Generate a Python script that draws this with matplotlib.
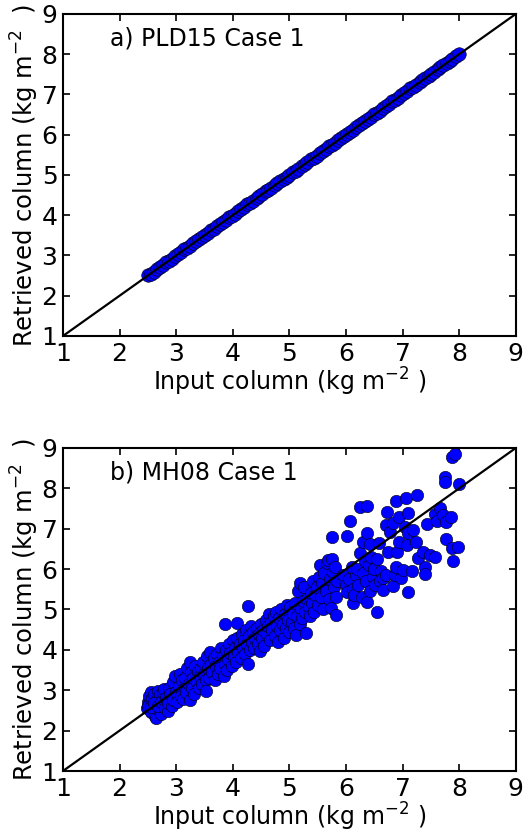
import matplotlib
matplotlib.use("Agg")
import matplotlib.pyplot as plt

# a) PLD15 Case 1: retrieval sits on the 1:1 line
PLD15_INPUT = [
    2.50, 2.55, 2.60, 2.66, 2.71, 2.76, 2.82, 2.87, 2.92, 2.98,
    3.03, 3.08, 3.14, 3.19, 3.24, 3.30, 3.35, 3.40, 3.46, 3.51,
    3.56, 3.62, 3.67, 3.72, 3.78, 3.83, 3.88, 3.94, 3.99, 4.04,
    4.10, 4.15, 4.20, 4.26, 4.31, 4.36, 4.42, 4.47, 4.52, 4.58,
    4.63, 4.68, 4.74, 4.79, 4.84, 4.90, 4.95, 5.00, 5.06, 5.11,
    5.16, 5.22, 5.27, 5.32, 5.38, 5.43, 5.48, 5.54, 5.59, 5.64,
    5.70, 5.75, 5.80, 5.86, 5.91, 5.96, 6.02, 6.07, 6.12, 6.18,
    6.23, 6.28, 6.34, 6.39, 6.44, 6.50, 6.55, 6.60, 6.66, 6.71,
    6.76, 6.82, 6.87, 6.92, 6.98, 7.03, 7.08, 7.14, 7.19, 7.24,
    7.30, 7.35, 7.40, 7.46, 7.51, 7.56, 7.62, 7.67, 7.72, 7.78,
    7.83, 7.88, 7.94, 8.00,
]
PLD15_RETRIEVED = [
    2.51, 2.55, 2.60, 2.67, 2.71, 2.76, 2.83, 2.87, 2.92, 2.99,
    3.03, 3.08, 3.15, 3.19, 3.24, 3.31, 3.35, 3.40, 3.47, 3.51,
    3.56, 3.63, 3.67, 3.72, 3.79, 3.83, 3.88, 3.95, 3.99, 4.04,
    4.11, 4.15, 4.20, 4.27, 4.31, 4.36, 4.43, 4.47, 4.52, 4.59,
    4.63, 4.68, 4.75, 4.79, 4.84, 4.91, 4.95, 5.00, 5.07, 5.11,
    5.16, 5.23, 5.27, 5.32, 5.39, 5.43, 5.48, 5.55, 5.59, 5.64,
    5.71, 5.75, 5.80, 5.87, 5.91, 5.96, 6.03, 6.07, 6.12, 6.19,
    6.23, 6.28, 6.35, 6.39, 6.44, 6.51, 6.55, 6.60, 6.67, 6.71,
    6.76, 6.83, 6.87, 6.92, 6.99, 7.03, 7.08, 7.15, 7.19, 7.24,
    7.31, 7.35, 7.40, 7.47, 7.51, 7.56, 7.63, 7.67, 7.72, 7.79,
    7.83, 7.88, 7.95, 8.00,
]

# b) MH08 Case 1: scatter grows with column amount
MH08_INPUT = [
    2.48, 2.50, 2.52, 2.55, 2.50, 2.56, 2.58, 2.60, 2.62, 2.65,
    2.63, 2.66, 2.68, 2.70, 2.72, 2.74, 2.55, 2.60, 2.68, 2.73,
    2.76, 2.78, 2.80, 2.82, 2.85, 2.86, 2.88, 2.90, 2.92, 2.95,
    2.95, 2.98, 3.00, 3.02, 3.05, 3.06, 3.08, 3.10, 3.12, 3.15,
    3.16, 3.18, 3.20, 3.22, 3.24, 3.25, 3.26, 3.28, 3.30, 3.32,
    3.34, 3.36, 3.38, 3.40, 3.42, 3.44, 3.46, 3.48, 3.50, 3.52,
    3.53, 3.54, 3.56, 3.58, 3.60, 3.62, 3.64, 3.66, 3.68, 3.70,
    3.72, 3.74, 3.76, 3.78, 3.80, 3.82, 3.84, 3.86, 3.87, 3.88,
    3.90, 3.92, 3.94, 3.96, 3.98, 4.00, 4.02, 4.04, 4.06, 4.07,
    4.08, 4.10, 4.12, 4.14, 4.16, 4.18, 4.20, 4.22, 4.24, 4.26,
    4.27, 4.27, 4.28, 4.30, 4.32, 4.34, 4.36, 4.38, 4.40, 4.42,
    4.44, 4.46, 4.48, 4.50, 4.52, 4.54, 4.56, 4.58, 4.60, 4.62,
    4.64, 4.66, 4.68, 4.70, 4.72, 4.74, 4.76, 4.78, 4.80, 4.82,
    4.84, 4.86, 4.88, 4.90, 4.92, 4.94, 4.96, 4.98, 5.00, 5.02,
    5.04, 5.06, 5.08, 5.10, 5.12, 5.14, 5.16, 5.18, 5.18, 5.20,
    5.22, 5.24, 5.26, 5.28, 5.30, 5.32, 5.34, 5.36, 5.38, 5.40,
    5.42, 5.44, 5.46, 5.48, 5.50, 5.52, 5.54, 5.56, 5.58, 5.60,
    5.62, 5.64, 5.66, 5.68, 5.70, 5.72, 5.74, 5.75, 5.76, 5.77,
    5.78, 5.80, 5.82, 5.83, 5.84,
    5.95, 6.00, 6.01, 6.01, 6.05, 6.08, 6.10, 6.12, 6.13, 6.14,
    6.18, 6.20, 6.22, 6.24, 6.25, 6.28, 6.30, 6.30, 6.33, 6.35,
    6.38, 6.38, 6.38, 6.40, 6.42, 6.43, 6.45, 6.48, 6.50, 6.52,
    6.55, 6.55, 6.58, 6.60, 6.62, 6.66, 6.66, 6.70,
    6.71, 6.73, 6.74, 6.77, 6.83, 6.83, 6.87, 6.88, 6.89, 6.90,
    6.93, 6.93, 6.98, 7.01, 7.04, 7.06, 7.08, 7.10, 7.10, 7.10,
    7.17, 7.19, 7.23, 7.26, 7.27, 7.36, 7.39, 7.39, 7.44, 7.48,
    7.58, 7.58, 7.60, 7.66, 7.72, 7.75, 7.75, 7.76, 7.77, 7.86,
    7.87, 7.88, 7.89, 7.92, 7.98, 8.00,
]
MH08_RETRIEVED = [
    2.55, 2.70, 2.85, 2.95, 2.62, 2.45, 2.78, 2.90, 2.35, 2.32,
    2.60, 2.75, 2.98, 2.50, 2.88, 2.42, 2.58, 2.68, 2.62, 2.70,
    2.95, 3.02, 2.55, 2.80, 2.48, 2.68, 3.05, 2.90, 2.62, 3.20,
    2.75, 3.35, 2.95, 2.70, 3.10, 3.40, 2.85, 3.25, 2.78, 3.05,
    3.30, 2.95, 3.55, 3.15, 2.75, 3.70, 3.45, 3.05, 3.30, 2.90,
    3.60, 3.20, 3.45, 3.05, 3.35, 3.55, 3.15, 3.70, 3.40, 3.25,
    2.97, 3.85, 3.55, 3.30, 3.95, 3.65, 3.45, 3.80, 3.25, 3.60,
    3.90, 3.40, 3.70, 3.55, 4.05, 3.85, 3.35, 3.65, 4.63, 4.00,
    3.50, 3.78, 4.15, 3.92, 3.60, 4.25, 3.85, 4.05, 3.70, 4.66,
    4.30, 3.95, 4.15, 3.80, 4.40, 4.05, 4.25, 3.90, 4.50, 4.15,
    5.08, 3.66, 4.35, 4.00, 4.60, 4.20, 4.45, 4.05, 4.30, 4.55,
    4.15, 4.40, 3.98, 4.65, 4.30, 4.50, 4.10, 4.75, 4.40, 4.60,
    4.90, 4.25, 4.70, 4.50, 4.85, 4.35, 4.95, 4.60, 4.20, 4.80,
    4.50, 5.00, 4.65, 4.30, 4.90, 4.55, 5.10, 4.75, 4.45, 5.05,
    4.70, 4.90, 4.55, 5.15, 4.38, 4.85, 5.45, 4.65, 5.65, 5.00,
    4.80, 5.20, 5.55, 4.95, 4.41, 5.25, 5.05, 4.85, 5.40, 5.15,
    5.70, 4.95, 5.35, 5.55, 5.10, 5.80, 6.10, 5.30, 5.65, 5.00,
    5.90, 5.45, 6.15, 6.23, 5.25, 5.75, 5.03, 6.79, 6.25, 5.94,
    5.55, 6.05, 5.30, 4.86, 5.70,
    5.85, 5.60, 5.44, 6.83, 5.75, 7.19, 6.05, 5.50, 5.15, 5.36,
    5.85, 6.00, 5.60, 7.53, 6.40, 5.30, 6.66, 5.90, 6.20, 5.70,
    7.57, 6.90, 5.19, 6.10, 5.45, 6.62, 6.30, 5.80, 6.00, 5.60,
    4.95, 6.25, 6.64, 5.70, 5.95, 5.48, 5.77, 5.85,
    7.10, 7.41, 6.43, 6.93, 7.14, 5.57, 5.86, 7.68, 6.06, 6.43,
    7.30, 6.67, 5.77, 5.98, 7.05, 7.76, 6.60, 7.39, 6.89, 5.44,
    5.95, 6.97, 6.67, 7.84, 6.27, 6.43, 6.06, 5.87, 7.11, 6.35,
    7.37, 6.31, 7.18, 7.51, 7.34, 8.27, 8.15, 7.16, 6.74, 7.30,
    6.52, 8.77, 6.21, 8.85, 6.56, 8.10,
]

PANEL_TITLES = ["a) PLD15 Case 1", "b) MH08 Case 1"]
TICKS = [1, 2, 3, 4, 5, 6, 7, 8, 9]

plt.rcParams.update({
    "font.family": "DejaVu Sans",
    "font.size": 17,
    "mathtext.fontset": "dejavusans",
    "axes.linewidth": 1.5,
})

fig = plt.figure(figsize=(5.29, 8.31), dpi=100)
ax_a = fig.add_axes([0.119, 0.5957, 0.856, 0.3875])
ax_b = fig.add_axes([0.119, 0.0722, 0.856, 0.3887])

panels = [
    (ax_a, PLD15_INPUT, PLD15_RETRIEVED, 95),
    (ax_b, MH08_INPUT, MH08_RETRIEVED, 80),
]

for (ax, x, y, size), title in zip(panels, PANEL_TITLES):
    ax.scatter(x, y, s=size, c="#0000ff", edgecolors="k", linewidths=0.4, zorder=2)
    ax.plot([1, 9], [1, 9], color="k", lw=1.6, zorder=3)
    ax.set_xlim(1, 9)
    ax.set_ylim(1, 9)
    ax.set_xticks(TICKS)
    ax.set_yticks(TICKS)
    ax.tick_params(direction="in", top=True, right=True, length=5, width=1.2,
                   labelsize=18, pad=4)
    ax.set_xlabel(r"Input column (kg m$^{-2}$ )", fontsize=17, labelpad=0)
    ax.set_ylabel(r"Retrieved column (kg m$^{-2}$  )", fontsize=17.5, labelpad=0)
    ax.text(0.104, 0.925, title, transform=ax.transAxes, fontsize=17,
            ha="left", va="center")

fig.savefig("out.png", dpi=100)
